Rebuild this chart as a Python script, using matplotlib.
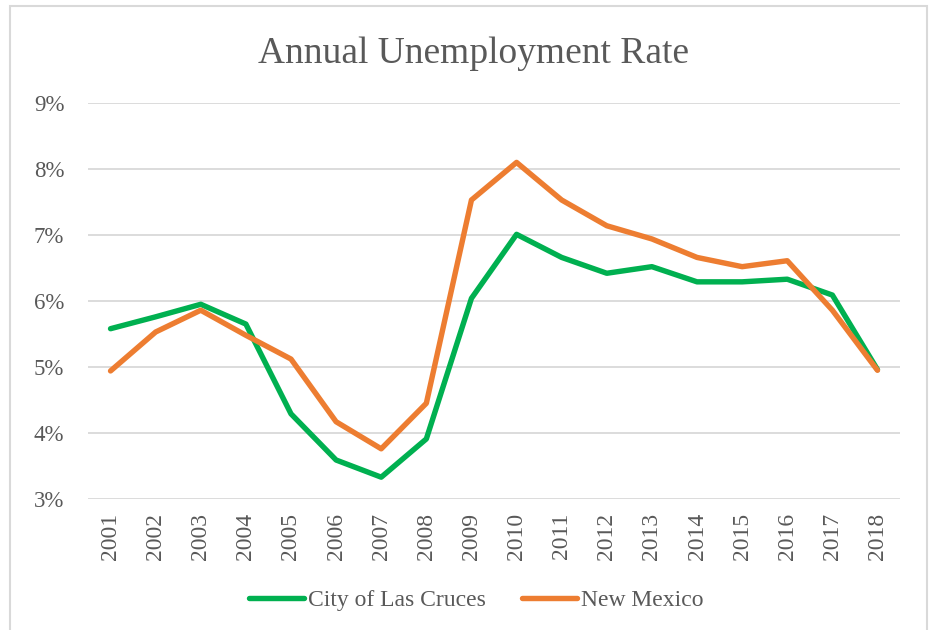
import matplotlib.pyplot as plt
from matplotlib.patches import Rectangle
from matplotlib.ticker import PercentFormatter

plt.rcParams['font.family'] = ['Liberation Serif', 'DejaVu Serif']

years = ['2001', '2002', '2003', '2004', '2005', '2006', '2007', '2008', '2009',
         '2010', '2011', '2012', '2013', '2014', '2015', '2016', '2017', '2018']
las_cruces = [5.58, 5.76, 5.95, 5.65, 4.29, 3.59, 3.33, 3.91, 6.04,
              7.01, 6.66, 6.42, 6.52, 6.29, 6.29, 6.33, 6.09, 4.96]
new_mexico = [4.94, 5.53, 5.86, 5.48, 5.12, 4.17, 3.76, 4.45, 7.53,
              8.10, 7.53, 7.14, 6.94, 6.66, 6.52, 6.61, 5.86, 4.95]

text_color = '#595959'
grid_color = '#D9D9D9'

fig = plt.figure(figsize=(9.32, 6.3), dpi=100)
ax = fig.add_axes([0.0944, 0.208, 0.8713, 0.6285])

x = range(len(years))
ax.plot(x, las_cruces, color='#00B050', linewidth=3.9, label='City of Las Cruces',
        solid_joinstyle='round', solid_capstyle='round')
ax.plot(x, new_mexico, color='#ED7D31', linewidth=3.9, label='New Mexico',
        solid_joinstyle='round', solid_capstyle='round')

ax.set_xlim(-0.5, len(years) - 0.5)
ax.set_ylim(3, 9)
ax.set_yticks(range(3, 10))
ax.yaxis.set_major_formatter(PercentFormatter(decimals=0))
ax.set_xticks(list(x))
ax.set_xticklabels(years, rotation=90)
ax.tick_params(axis='both', length=0, colors=text_color)
ax.tick_params(axis='x', labelsize=17, pad=10)
ax.tick_params(axis='y', labelsize=16.5, pad=17)
ax.grid(axis='y', color=grid_color, linewidth=1.3)
ax.set_axisbelow(True)
for s in ax.spines.values():
    s.set_visible(False)

fig.text(0.508, 0.915, 'Annual Unemployment Rate', ha='center', va='center',
         fontsize=27, color=text_color)

leg = fig.legend(loc='center', bbox_to_anchor=(0.511, 0.047), ncol=2, frameon=False,
                 fontsize=17, handlelength=2.35, handletextpad=0.17, columnspacing=1.5)
for t in leg.get_texts():
    t.set_color(text_color)

fig.patches.append(Rectangle((10 / 932, -0.05), 917 / 932, 1 - 6 / 630 + 0.05,
                             transform=fig.transFigure, fill=False,
                             edgecolor=grid_color, linewidth=1.5))

fig.savefig('out.png', dpi=100, facecolor='white')
